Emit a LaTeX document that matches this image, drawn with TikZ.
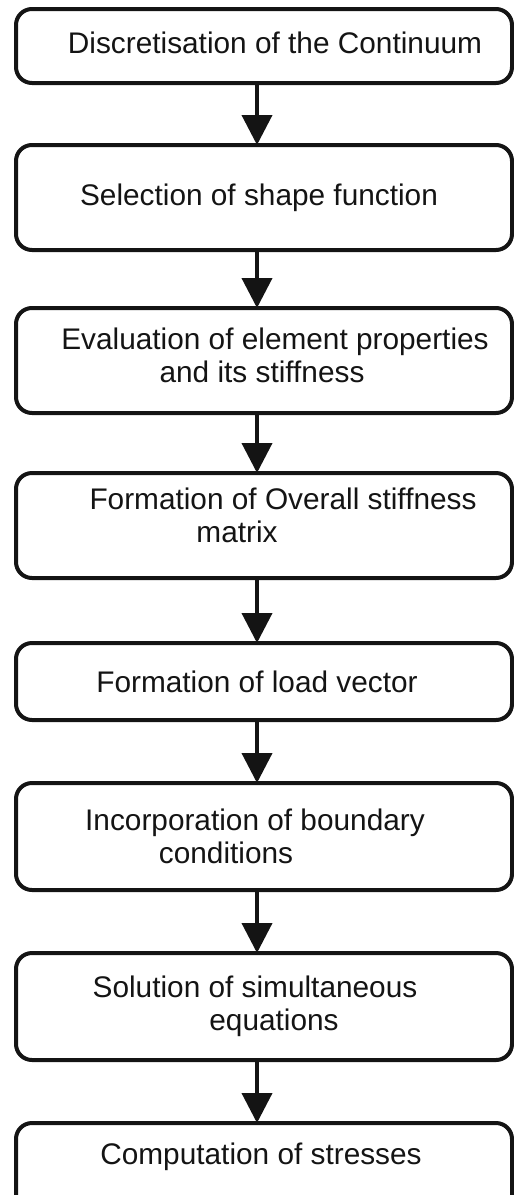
\documentclass[tikz,border=0pt]{standalone}
\usepackage{fontspec}
\setmainfont{Liberation Sans}
\usepackage{tikz}
\usetikzlibrary{positioning,arrows.meta}
\definecolor{FlowInk}{RGB}{20,20,20}

\begin{document}
\begin{tikzpicture}[
box/.style={rectangle,rounded corners=16pt,draw=FlowInk,line width=4pt,outer sep=0pt,minimum width=496pt,align=center,text=FlowInk,font=\fontsize{29.8}{33}\selectfont},
arrow/.style={-{Triangle[length=30pt,width=30pt]},line width=4pt,draw=FlowInk}
]
\useasboundingbox (0,0) rectangle (514pt,-1195pt);
\node[box,minimum height=74pt,text depth=7.5pt] (disc) at (264pt,-46pt) {\hspace*{22pt}Discretisation of the Continuum};
\node[box,minimum height=105pt,below=62pt of disc] (shape) {\hspace*{-10pt}Selection of shape function};
\node[box,minimum height=105pt,text depth=10pt,below=58pt of shape] (props) {\hspace*{22pt}Evaluation of element properties\\\hspace*{-4pt}and its stiffness};
\node[box,minimum height=105pt,text depth=20pt,below=60pt of props] (kmat) {\hspace*{38pt}Formation of Overall stiffness\\\hspace*{-54pt}matrix};
\node[box,minimum height=77pt,below=65pt of kmat] (load) {\hspace*{-14pt}Formation of load vector};
\node[box,minimum height=107pt,below=63pt of load] (bc) {\hspace*{-18pt}Incorporation of boundary\\\hspace*{-76pt}conditions};
\node[box,minimum height=107pt,below=63pt of bc] (solve) {\hspace*{-18pt}Solution of simultaneous\\\hspace*{20pt}equations};
\node[box,minimum height=100pt,text depth=38pt,below=63pt of solve] (stress) {\hspace*{-6pt}Computation of stresses};
\draw[arrow] ([xshift=-7pt]disc.south)--([xshift=-7pt]shape.north);
\draw[arrow] ([xshift=-7pt]shape.south)--([xshift=-7pt]props.north);
\draw[arrow] ([xshift=-7pt]props.south)--([xshift=-7pt]kmat.north);
\draw[arrow] ([xshift=-7pt]kmat.south)--([xshift=-7pt]load.north);
\draw[arrow] ([xshift=-7pt]load.south)--([xshift=-7pt]bc.north);
\draw[arrow] ([xshift=-7pt]bc.south)--([xshift=-7pt]solve.north);
\draw[arrow] ([xshift=-7pt]solve.south)--([xshift=-7pt]stress.north);
\end{tikzpicture}
\end{document}
